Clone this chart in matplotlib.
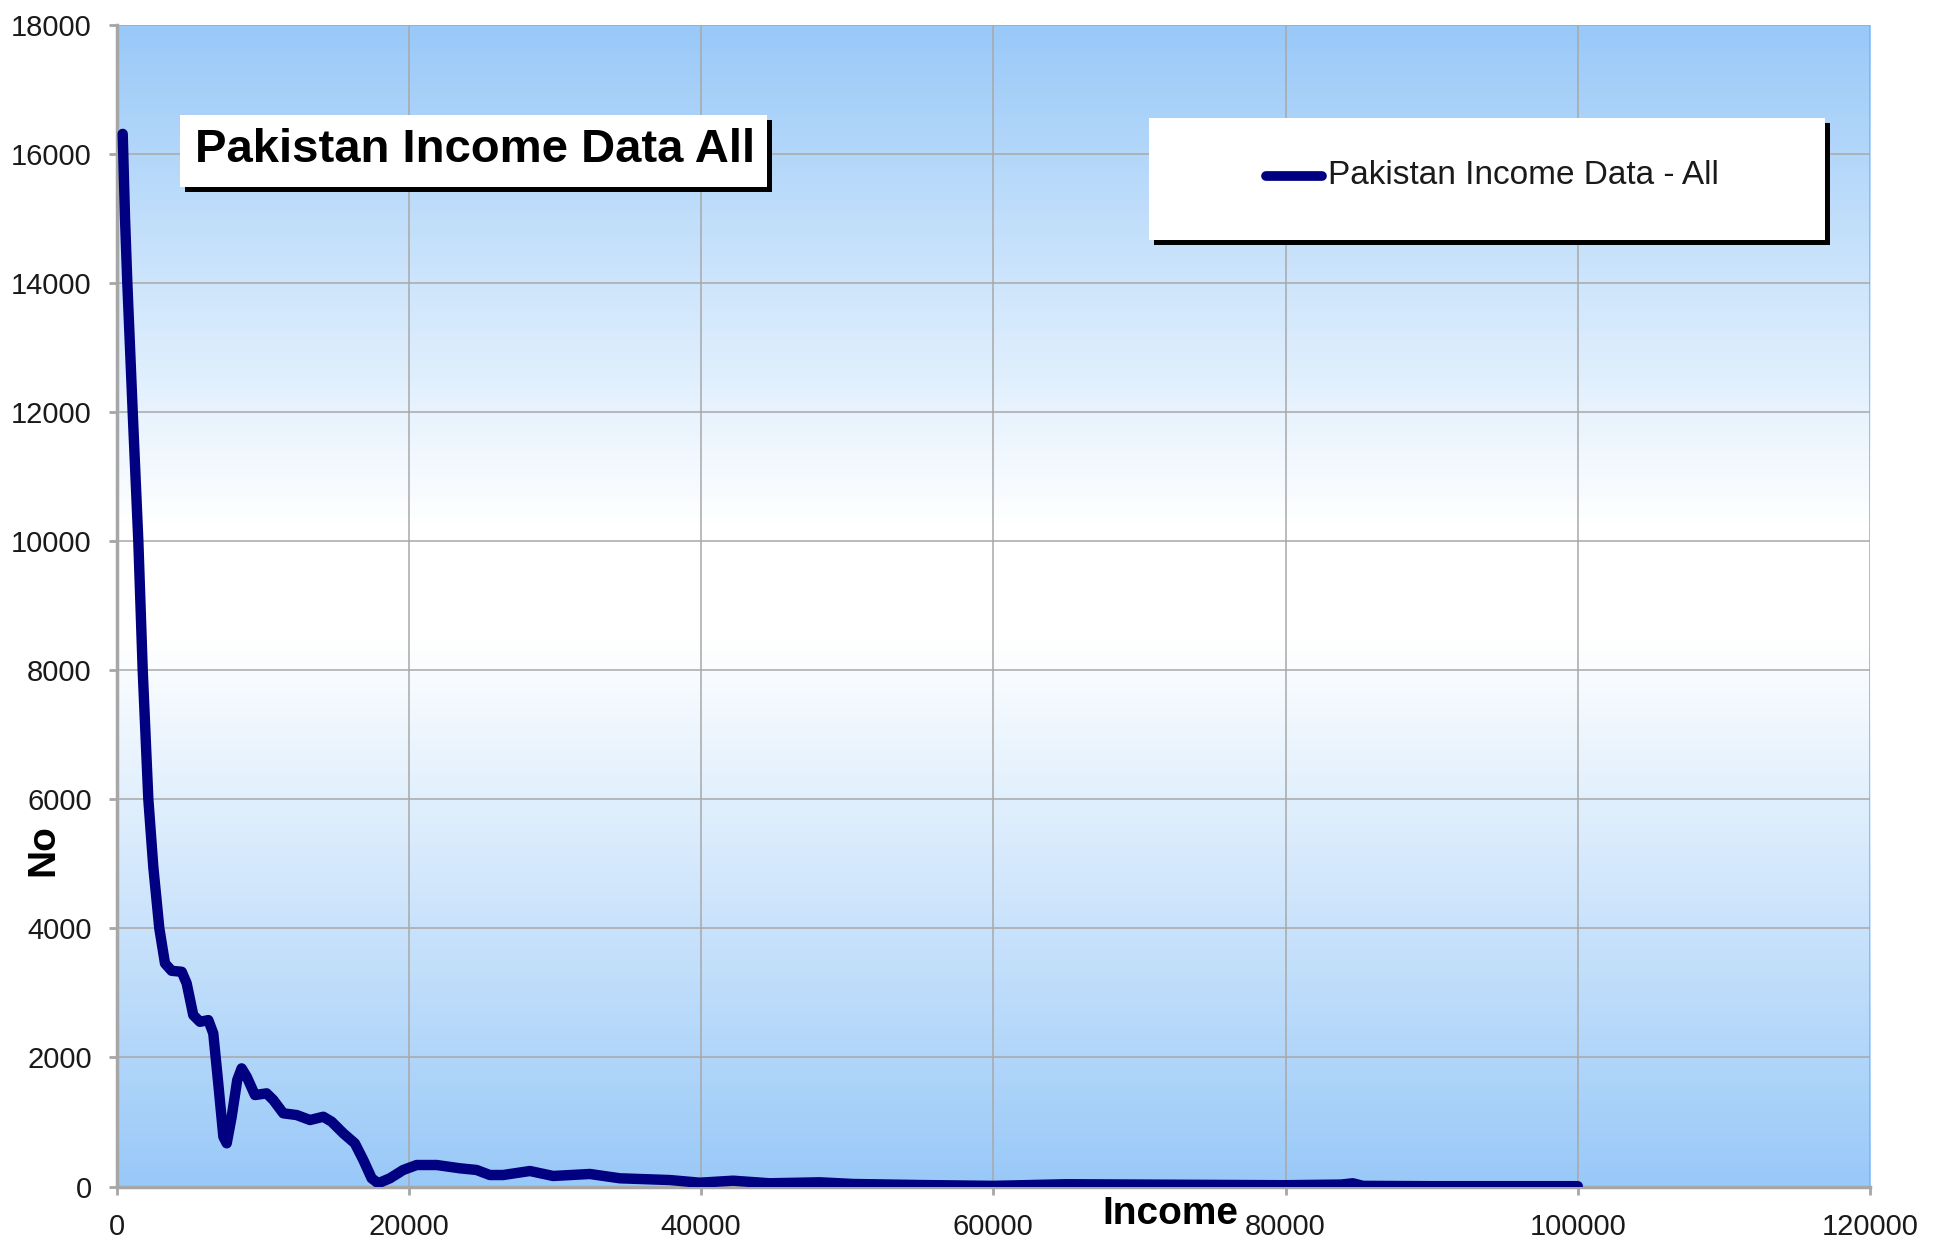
# Pakistan income distribution chart
# Excel-style line chart: gradient plot area, boxed title and legend with shadows

import numpy as np
import matplotlib.pyplot as plt
from matplotlib.colors import LinearSegmentedColormap
from matplotlib.patches import Rectangle
from matplotlib.lines import Line2D

# =========================
# DATA
# =========================

income = [410, 570, 727, 1095, 1480, 1780, 2165, 2505, 2917, 3305,
          3760, 4450, 4790, 5240, 5700, 6270, 6610, 6950, 7300, 7530,
          7870, 8250, 8550, 8900, 9460, 10260, 10720, 11400, 12320, 13230,
          14140, 14710, 15510, 16300, 16880, 17450, 17900, 18700, 19610, 20530,
          21900, 23490, 24630, 25540, 26450, 28280, 29870, 32380, 34440, 37860,
          39910, 42190, 44700, 48120, 50400, 54960, 60000, 65000, 70000, 75000,
          80000, 83800, 84600, 85300, 90000, 100000]
count = [16310, 15000, 14000, 12000, 10000, 8000, 6000, 4953, 4000, 3457,
         3342, 3327, 3147, 2656, 2552, 2578, 2372, 1598, 771, 669,
         1081, 1649, 1830, 1700, 1417, 1443, 1340, 1134, 1107, 1030,
         1081, 1004, 824, 669, 410, 127, 50, 127, 256, 333,
         333, 282, 256, 178, 178, 240, 163, 194, 127, 100,
         59, 90, 50, 65, 39, 23, 10, 35, 30, 25,
         20, 30, 50, 10, 5, 5]

series_name = "Pakistan Income Data - All"
chart_title = "Pakistan Income Data All"
x_ticks = [0, 20000, 40000, 60000, 80000, 100000, 120000]
y_ticks = list(range(0, 18001, 2000))

# =========================
# FIGURE
# =========================

fonts = ['Liberation Sans', 'DejaVu Sans']
plt.rcParams['font.family'] = fonts

W, H = 1946, 1245
fig = plt.figure(figsize=(W / 100, H / 100), dpi=100)
fig.patch.set_facecolor("white")

left, right, top, bottom = 116.7, 1870, 24.8, 1186.5
ax = fig.add_axes([left / W, 1 - bottom / H, (right - left) / W, (bottom - top) / H])

# nền gradient xanh - trắng - xanh
blue = "#99C9F8"
cmap = LinearSegmentedColormap.from_list(
    "bg", [(0, blue), (0.47, "white"), (0.57, "white"), (1, blue)])
grad = np.linspace(0, 1, 256).reshape(-1, 1)
ax.imshow(grad, cmap=cmap, aspect="auto", origin="lower",
          extent=[0, 120000, 0, 18000], zorder=0)

ax.set_xlim(0, 120000)
ax.set_ylim(0, 18000)
ax.set_xticks(x_ticks)
ax.set_yticks(y_ticks)

ax.grid(True, color="#A8A8A8", linewidth=1.1, zorder=1)
ax.set_axisbelow(False)

for s in ["top", "right"]:
    ax.spines[s].set_visible(False)
for s in ["left", "bottom"]:
    ax.spines[s].set_color("#A6A6A6")
    ax.spines[s].set_linewidth(2.5)
    ax.spines[s].set_zorder(2)

ax.tick_params(axis="both", colors="#A6A6A6", length=6, width=2,
               labelcolor="#1a1a1a", labelsize=21)
ax.tick_params(axis="y", pad=12)
ax.tick_params(axis="x", pad=13)

# đường dữ liệu
ax.plot(income, count, color="#000080", linewidth=7.5,
        solid_joinstyle="round", solid_capstyle="round", zorder=3)

# nhãn trục
ax.set_xlabel("Income", fontsize=28, fontweight="bold")
ax.xaxis.set_label_coords(0.601, -0.024)
ax.xaxis.label.set_va("center")
ax.set_ylabel("No", fontsize=28, fontweight="bold")
ax.yaxis.set_label_coords(-0.042, 0.29)
ax.yaxis.label.set_va("center")

# =========================
# HỘP TIÊU ĐỀ & LEGEND (có bóng)
# =========================

def shadow_box(x0, y0, x1, y1, off=5):
    """Vẽ hộp trắng có bóng đen (toạ độ pixel, gốc trên-trái)"""
    fig.add_artist(Rectangle(((x0 + off) / W, 1 - (y1 + off) / H),
                             (x1 - x0) / W, (y1 - y0) / H,
                             transform=fig.transFigure, facecolor="black",
                             edgecolor="none", zorder=5))
    fig.add_artist(Rectangle((x0 / W, 1 - y1 / H), (x1 - x0) / W, (y1 - y0) / H,
                             transform=fig.transFigure, facecolor="white",
                             edgecolor="none", zorder=6))

shadow_box(180, 115, 767, 187)
fig.text(475 / W, 1 - 150 / H, chart_title, ha="center", va="center",
         fontsize=34, fontweight="bold", color="black", zorder=7)

shadow_box(1149, 118, 1825, 240)
fig.add_artist(Line2D([1266 / W, 1322 / W], [1 - 176 / H, 1 - 176 / H],
                      transform=fig.transFigure, color="#000080", linewidth=7,
                      solid_capstyle="round", zorder=7))
fig.text(1328 / W, 1 - 176 / H, series_name, ha="left", va="center",
         fontsize=24, color="#1a1a1a", zorder=7)

fig.savefig("out.png", dpi=100)
